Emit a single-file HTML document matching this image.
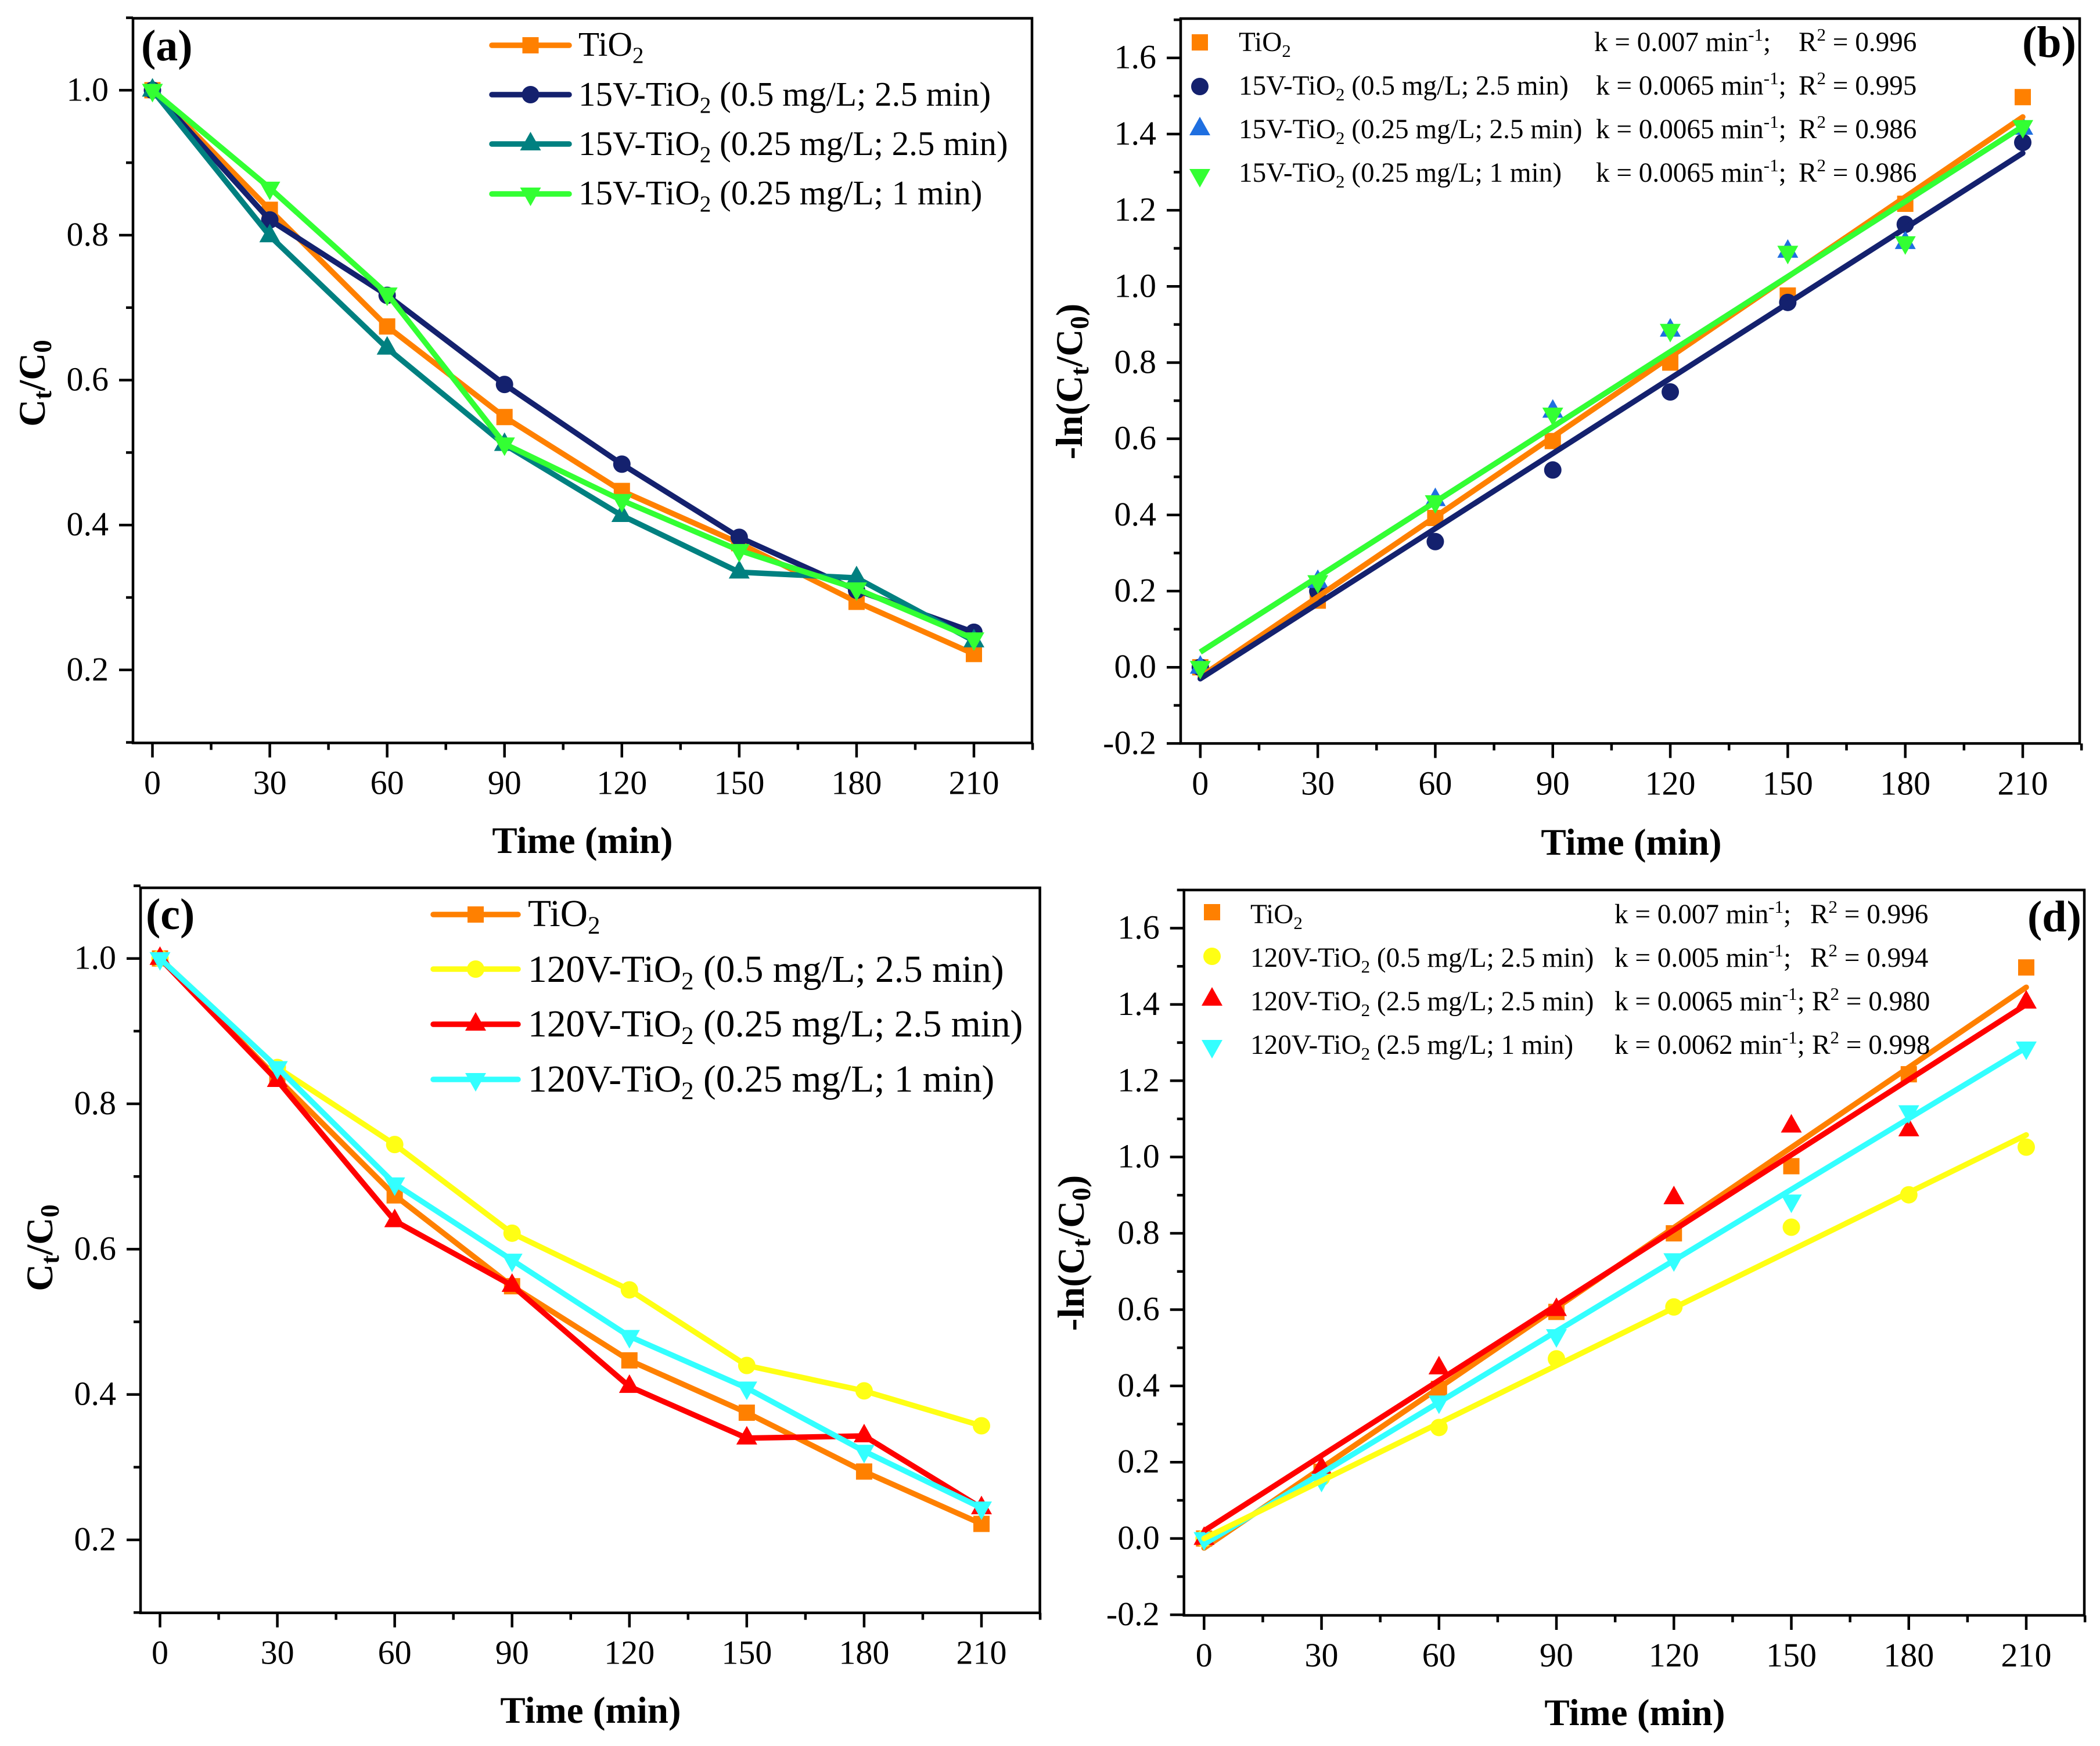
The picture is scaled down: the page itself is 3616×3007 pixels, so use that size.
<!DOCTYPE html>
<html lang="en">
<head>
<meta charset="utf-8">
<title>TiO2 photocatalytic degradation kinetics</title>
<style>
html,body{margin:0;padding:0;background:#fff;}
svg{display:block;}
text{font-family:"Liberation Serif","Times New Roman",serif;fill:#000;}
.leg-a{font-size:59px;}
.leg-c{font-size:65.4px;}
.leg-k{font-size:47.2px;}
.title{font-size:65px;font-weight:bold;}
.tag{font-size:76px;font-weight:bold;}
</style>
</head>
<body>
<svg id="figure" xmlns="http://www.w3.org/2000/svg" width="3616" height="3007" viewBox="0 0 3616 3007">
<rect x="0" y="0" width="3616" height="3007" fill="#ffffff"/>
<g id="marks"></g>

<!-- Panel tags -->
<text class="tag" x="243" y="104">(a)</text>
<text class="tag" x="3482" y="98">(b)</text>
<text class="tag" x="251" y="1600">(c)</text>
<text class="tag" x="3491" y="1604">(d)</text>

<!-- X axis titles -->
<text class="title" x="1003" y="1469" text-anchor="middle">Time (min)</text>
<text class="title" x="2809" y="1472" text-anchor="middle">Time (min)</text>
<text class="title" x="1017" y="2967" text-anchor="middle">Time (min)</text>
<text class="title" x="2815" y="2971" text-anchor="middle">Time (min)</text>

<!-- Y axis titles -->
<text class="title" transform="translate(77 660) rotate(-90)" text-anchor="middle">C<tspan dy="11" font-size="45">t</tspan><tspan dy="-11">/C</tspan><tspan dy="11" font-size="45">0</tspan></text>
<text class="title" transform="translate(1863 657) rotate(-90)" text-anchor="middle">-ln(C<tspan dy="11" font-size="45">t</tspan><tspan dy="-11">/C</tspan><tspan dy="11" font-size="45">0</tspan><tspan dy="-11">)</tspan></text>
<text class="title" transform="translate(90 2149) rotate(-90)" text-anchor="middle">C<tspan dy="11" font-size="45">t</tspan><tspan dy="-11">/C</tspan><tspan dy="11" font-size="45">0</tspan></text>
<text class="title" transform="translate(1866 2158) rotate(-90)" text-anchor="middle">-ln(C<tspan dy="11" font-size="45">t</tspan><tspan dy="-11">/C</tspan><tspan dy="11" font-size="45">0</tspan><tspan dy="-11">)</tspan></text>

<!-- Legend (a) -->
<text class="leg-a" x="996" y="96">TiO<tspan dy="12" font-size="39">2</tspan></text>
<text class="leg-a" x="996" y="182">15V-TiO<tspan dy="12" font-size="39">2</tspan><tspan dy="-12"> (0.5 mg/L; 2.5 min)</tspan></text>
<text class="leg-a" x="996" y="267">15V-TiO<tspan dy="12" font-size="39">2</tspan><tspan dy="-12"> (0.25 mg/L; 2.5 min)</tspan></text>
<text class="leg-a" x="996" y="352">15V-TiO<tspan dy="12" font-size="39">2</tspan><tspan dy="-12"> (0.25 mg/L; 1 min)</tspan></text>

<!-- Legend (c) -->
<text class="leg-c" x="909" y="1595">TiO<tspan dy="13" font-size="43">2</tspan></text>
<text class="leg-c" x="909" y="1691">120V-TiO<tspan dy="13" font-size="43">2</tspan><tspan dy="-13"> (0.5 mg/L; 2.5 min)</tspan></text>
<text class="leg-c" x="909" y="1785">120V-TiO<tspan dy="13" font-size="43">2</tspan><tspan dy="-13"> (0.25 mg/L; 2.5 min)</tspan></text>
<text class="leg-c" x="909" y="1880">120V-TiO<tspan dy="13" font-size="43">2</tspan><tspan dy="-13"> (0.25 mg/L; 1 min)</tspan></text>

<!-- Legend (b) -->
<text class="leg-k" x="2133" y="88">TiO<tspan dy="10" font-size="31">2</tspan></text>
<text class="leg-k" x="2745" y="88">k = 0.007 min<tspan dy="-18" font-size="31">-1</tspan><tspan dy="18">;</tspan></text>
<text class="leg-k" x="3097" y="88">R<tspan dy="-18" font-size="31">2</tspan><tspan dy="18"> = 0.996</tspan></text>
<text class="leg-k" x="2133" y="163">15V-TiO<tspan dy="10" font-size="31">2</tspan><tspan dy="-10"> (0.5 mg/L; 2.5 min)</tspan></text>
<text class="leg-k" x="2748" y="163">k = 0.0065 min<tspan dy="-18" font-size="31">-1</tspan><tspan dy="18">;</tspan></text>
<text class="leg-k" x="3097" y="163">R<tspan dy="-18" font-size="31">2</tspan><tspan dy="18"> = 0.995</tspan></text>
<text class="leg-k" x="2133" y="238">15V-TiO<tspan dy="10" font-size="31">2</tspan><tspan dy="-10"> (0.25 mg/L; 2.5 min)</tspan></text>
<text class="leg-k" x="2748" y="238">k = 0.0065 min<tspan dy="-18" font-size="31">-1</tspan><tspan dy="18">;</tspan></text>
<text class="leg-k" x="3097" y="238">R<tspan dy="-18" font-size="31">2</tspan><tspan dy="18"> = 0.986</tspan></text>
<text class="leg-k" x="2133" y="313">15V-TiO<tspan dy="10" font-size="31">2</tspan><tspan dy="-10"> (0.25 mg/L; 1 min)</tspan></text>
<text class="leg-k" x="2748" y="313">k = 0.0065 min<tspan dy="-18" font-size="31">-1</tspan><tspan dy="18">;</tspan></text>
<text class="leg-k" x="3097" y="313">R<tspan dy="-18" font-size="31">2</tspan><tspan dy="18"> = 0.986</tspan></text>

<!-- Legend (d) -->
<text class="leg-k" x="2153" y="1590">TiO<tspan dy="10" font-size="31">2</tspan></text>
<text class="leg-k" x="2780" y="1590">k = 0.007 min<tspan dy="-18" font-size="31">-1</tspan><tspan dy="18">;</tspan></text>
<text class="leg-k" x="3117" y="1590">R<tspan dy="-18" font-size="31">2</tspan><tspan dy="18"> = 0.996</tspan></text>
<text class="leg-k" x="2153" y="1665">120V-TiO<tspan dy="10" font-size="31">2</tspan><tspan dy="-10"> (0.5 mg/L; 2.5 min)</tspan></text>
<text class="leg-k" x="2780" y="1665">k = 0.005 min<tspan dy="-18" font-size="31">-1</tspan><tspan dy="18">;</tspan></text>
<text class="leg-k" x="3117" y="1665">R<tspan dy="-18" font-size="31">2</tspan><tspan dy="18"> = 0.994</tspan></text>
<text class="leg-k" x="2153" y="1740">120V-TiO<tspan dy="10" font-size="31">2</tspan><tspan dy="-10"> (2.5 mg/L; 2.5 min)</tspan></text>
<text class="leg-k" x="2780" y="1740">k = 0.0065 min<tspan dy="-18" font-size="31">-1</tspan><tspan dy="18">;</tspan></text>
<text class="leg-k" x="3120" y="1740">R<tspan dy="-18" font-size="31">2</tspan><tspan dy="18"> = 0.980</tspan></text>
<text class="leg-k" x="2153" y="1815">120V-TiO<tspan dy="10" font-size="31">2</tspan><tspan dy="-10"> (2.5 mg/L; 1 min)</tspan></text>
<text class="leg-k" x="2780" y="1815">k = 0.0062 min<tspan dy="-18" font-size="31">-1</tspan><tspan dy="18">;</tspan></text>
<text class="leg-k" x="3120" y="1815">R<tspan dy="-18" font-size="31">2</tspan><tspan dy="18"> = 0.998</tspan></text>
</svg>

<script>
// ---- Data ----
const timeMinutes = [0, 30, 60, 90, 120, 150, 180, 210];
const xMajorTicks = [0, 30, 60, 90, 120, 150, 180, 210];
const xMinorTicks = [15, 45, 75, 105, 135, 165, 195, 225];
const ratioMajorTicks = [0.2, 0.4, 0.6, 0.8, 1.0];
const ratioMinorTicks = [0.1, 0.3, 0.5, 0.7, 0.9, 1.1];
const lnMajorTicks = [-0.2, 0.0, 0.2, 0.4, 0.6, 0.8, 1.0, 1.2, 1.4, 1.6];
const lnMinorTicks = [-0.1, 0.1, 0.3, 0.5, 0.7, 0.9, 1.1, 1.3, 1.5, 1.7];

// Panel (a) Ct/C0, 15V
const ratioTiO2 = [1.0, 0.835, 0.674, 0.549, 0.447, 0.375, 0.294, 0.222];
const ratio15V05 = [1.0, 0.821, 0.717, 0.594, 0.484, 0.383, 0.31, 0.252];
const ratio15V025 = [1.0, 0.799, 0.644, 0.511, 0.413, 0.335, 0.327, 0.24];
const ratio15V0251 = [1.0, 0.865, 0.719, 0.512, 0.434, 0.365, 0.312, 0.243];

// Panel (b) -ln(Ct/C0), 15V
const lnTiO2 = [0, 0.175, 0.392, 0.594, 0.8, 0.976, 1.217, 1.497];
const ln15V05 = [0, 0.2, 0.33, 0.518, 0.723, 0.958, 1.163, 1.378];
const ln15V025 = [0, 0.225, 0.44, 0.672, 0.885, 1.092, 1.115, 1.415];
const ln15V0251 = [0, 0.225, 0.435, 0.665, 0.885, 1.09, 1.115, 1.42];
const fitTiO2 = [-0.025, 1.445];
const fit15V05 = [-0.03, 1.35];
const fit15V025 = [0.04, 1.42];
const fit15V0251 = [0.04, 1.42];

// Panel (c) Ct/C0, 120V
const ratio120V05 = [1.0, 0.85, 0.744, 0.622, 0.544, 0.44, 0.405, 0.357];
const ratio120V025 = [1.0, 0.832, 0.639, 0.55, 0.411, 0.34, 0.343, 0.244];
const ratio120V0251 = [1.0, 0.85, 0.69, 0.585, 0.48, 0.409, 0.322, 0.244];

// Panel (d) -ln(Ct/C0), 120V
const ln120V05 = [0, 0.16, 0.291, 0.471, 0.607, 0.816, 0.901, 1.026];
const ln120V25 = [0, 0.185, 0.447, 0.6, 0.893, 1.081, 1.071, 1.406];
const ln120V251 = [0, 0.153, 0.358, 0.532, 0.731, 0.885, 1.119, 1.286];
const fit120V05 = [0.0, 1.058];
const fit120V25 = [0.02, 1.4];
const fit120V251 = [-0.015, 1.287];

// ---- Styles ----
const ORANGE = '#ff8000', NAVY = '#14216e', TEAL = '#008080', GREEN = '#33ff33',
      BLUE = '#1f6fe0', YELLOW = '#ffff14', RED = '#ff0000', CYAN = '#33ffff';

const NS = 'http://www.w3.org/2000/svg';
const root = document.getElementById('marks');

function make(tag, attrs, parent) {
  const node = document.createElementNS(NS, tag);
  for (const key in attrs) node.setAttribute(key, attrs[key]);
  parent.appendChild(node);
  return node;
}

function xAxis(p) {
  return function (t) { return p.x0 + t * (p.x210 - p.x0) / 210; };
}
function yAxis(p) {
  return function (v) { return p.yA + (v - p.vA) * (p.yB - p.yA) / (p.vB - p.vA); };
}

function drawMarker(group, kind, cx, cy, color, name) {
  let el;
  if (kind === 'square') {
    el = make('rect', { x: cx - 14, y: cy - 14, width: 28, height: 28, fill: color }, group);
  } else if (kind === 'circle') {
    el = make('circle', { cx: cx, cy: cy, r: 15, fill: color }, group);
  } else if (kind === 'up') {
    el = make('polygon', { points: (cx - 18) + ',' + (cy + 11) + ' ' + (cx + 18) + ',' + (cy + 11) + ' ' + cx + ',' + (cy - 21), fill: color }, group);
  } else {
    el = make('polygon', { points: (cx - 18) + ',' + (cy - 11) + ' ' + (cx + 18) + ',' + (cy - 11) + ' ' + cx + ',' + (cy + 21), fill: color }, group);
  }
  
  
}

function drawAxes(p) {
  const X = xAxis(p), Y = yAxis(p);
  const g = make('g', {}, root);
  
  

  const frame = make('rect', { x: p.left, y: p.top, width: p.right - p.left, height: p.bottom - p.top, fill: 'none', stroke: '#000', 'stroke-width': 4.5 }, g);
  
  

  xMajorTicks.forEach(function (t) {
    const tick = make('line', { x1: X(t), x2: X(t), y1: p.bottom, y2: p.bottom + 25, stroke: '#000', 'stroke-width': 4.5 }, g);
    
    
    const label = make('text', { x: X(t), y: p.bottom + 88, 'text-anchor': 'middle', 'font-size': 58 }, g);
    label.textContent = String(t);
    
    
  });
  xMinorTicks.forEach(function (t) {
    const tick = make('line', { x1: X(t), x2: X(t), y1: p.bottom, y2: p.bottom + 12, stroke: '#000', 'stroke-width': 4.5 }, g);
    
    
  });
  p.yMajor.forEach(function (v) {
    const tick = make('line', { x1: p.left - 24, x2: p.left, y1: Y(v), y2: Y(v), stroke: '#000', 'stroke-width': 4.5 }, g);
    
    
    const label = make('text', { x: p.left - 42, y: Y(v) + 18, 'text-anchor': 'end', 'font-size': 58 }, g);
    label.textContent = v.toFixed(1);
    
    
  });
  p.yMinor.forEach(function (v) {
    const tick = make('line', { x1: p.left - 12, x2: p.left, y1: Y(v), y2: Y(v), stroke: '#000', 'stroke-width': 4.5 }, g);
    
    
  });
}

function drawPolyline(p, s) {
  const X = xAxis(p), Y = yAxis(p);
  const pts = s.values.map(function (v, i) { return X(timeMinutes[i]) + ',' + Y(v); }).join(' ');
  const line = make('polyline', { points: pts, fill: 'none', stroke: s.color, 'stroke-width': 9.5, 'stroke-linejoin': 'round' }, root);
  
  
}

function drawPoints(p, s) {
  const X = xAxis(p), Y = yAxis(p);
  const g = make('g', {}, root);
  
  
  s.values.forEach(function (v, i) {
    drawMarker(g, s.marker, X(timeMinutes[i]), Y(v), s.color, 'data-point-' + s.id);
  });
}

function drawFit(p, s) {
  const X = xAxis(p), Y = yAxis(p);
  const line = make('line', { x1: X(0), y1: Y(s.fit[0]), x2: X(210), y2: Y(s.fit[1]), stroke: s.color, 'stroke-width': 9.5, 'stroke-linecap': s.cap || 'round' }, root);
  
  
}

function drawLegendLine(p, s, row) {
  const g = make('g', {}, root);
  
  
  const y = p.legendY[row];
  const swatch = make('line', { x1: p.legendX1, x2: p.legendX2, y1: y, y2: y, stroke: s.color, 'stroke-width': 9.5, 'stroke-linecap': 'round' }, g);
  
  
  drawMarker(g, s.marker, (p.legendX1 + p.legendX2) / 2, y, s.color, 'legend-marker');
}

function drawLegendMarker(p, s, row) {
  drawMarker(root, s.marker, p.legendX, p.legendY[row], s.color, 'legend-marker-' + s.id);
}

// ---- Panels ----
const panelA = { id: 'a', left: 229, right: 1777, top: 31.5, bottom: 1279.5, x0: 262.5, x210: 1677, vA: 1.0, yA: 155.4, vB: 0.2, yB: 1153.8, yMajor: ratioMajorTicks, yMinor: ratioMinorTicks, legendX1: 847, legendX2: 980, legendY: [78, 163, 248, 334] };
const panelB = { id: 'b', left: 2033, right: 3581, top: 32, bottom: 1280.4, x0: 2066.8, x210: 3483, vA: 1.6, yA: 99.7, vB: -0.2, yB: 1280.4, yMajor: lnMajorTicks, yMinor: lnMinorTicks, legendX: 2066, legendY: [73, 149, 222, 302] };
const panelC = { id: 'c', left: 242, right: 1790.6, top: 1529, bottom: 2777.7, x0: 275.5, x210: 1690, vA: 1.0, yA: 1650.7, vB: 0.2, yB: 2652, yMajor: ratioMajorTicks, yMinor: ratioMinorTicks, legendX1: 746, legendX2: 892, legendY: [1575, 1669, 1764, 1859] };
const panelD = { id: 'd', left: 2038.7, right: 3589, top: 1532.8, bottom: 2782, x0: 2073.3, x210: 3489, vA: 1.6, yA: 1598.5, vB: -0.2, yB: 2781, yMajor: lnMajorTicks, yMinor: lnMinorTicks, legendX: 2087, legendY: [1571, 1647, 1721, 1802] };

[panelA, panelB, panelC, panelD].forEach(drawAxes);

// (a)
const seriesA = [
  { id: 'tio2', color: ORANGE, marker: 'square', values: ratioTiO2 },
  { id: '15v-0.5-2.5', color: NAVY, marker: 'circle', values: ratio15V05 },
  { id: '15v-0.25-2.5', color: TEAL, marker: 'up', values: ratio15V025 },
  { id: '15v-0.25-1', color: GREEN, marker: 'down', values: ratio15V0251 }
];
seriesA.forEach(function (s, i) {
  drawPolyline(panelA, s);
  drawPoints(panelA, s);
  drawLegendLine(panelA, s, i);
});

// (c)
const seriesC = [
  { id: 'tio2', color: ORANGE, marker: 'square', values: ratioTiO2 },
  { id: '120v-0.5-2.5', color: YELLOW, marker: 'circle', values: ratio120V05 },
  { id: '120v-0.25-2.5', color: RED, marker: 'up', values: ratio120V025 },
  { id: '120v-0.25-1', color: CYAN, marker: 'down', values: ratio120V0251 }
];
seriesC.forEach(function (s, i) {
  drawPolyline(panelC, s);
  drawPoints(panelC, s);
  drawLegendLine(panelC, s, i);
});

// (b)
const seriesB = [
  { id: 'tio2', color: ORANGE, marker: 'square', values: lnTiO2, fit: fitTiO2 },
  { id: '15v-0.5-2.5', color: NAVY, marker: 'circle', values: ln15V05, fit: fit15V05 },
  { id: '15v-0.25-2.5', color: BLUE, marker: 'up', values: ln15V025, fit: fit15V025, cap: 'butt' },
  { id: '15v-0.25-1', color: GREEN, marker: 'down', values: ln15V0251, fit: fit15V0251, cap: 'butt' }
];
drawPoints(panelB, seriesB[0]);
drawPoints(panelB, seriesB[1]);
drawPoints(panelB, seriesB[2]);
drawFit(panelB, seriesB[2]);
drawFit(panelB, seriesB[0]);
drawFit(panelB, seriesB[1]);
drawPoints(panelB, seriesB[3]);
drawFit(panelB, seriesB[3]);
seriesB.forEach(function (s, i) { drawLegendMarker(panelB, s, i); });

// (d)
const seriesD = [
  { id: 'tio2', color: ORANGE, marker: 'square', values: lnTiO2, fit: fitTiO2 },
  { id: '120v-0.5-2.5', color: YELLOW, marker: 'circle', values: ln120V05, fit: fit120V05 },
  { id: '120v-2.5-2.5', color: RED, marker: 'up', values: ln120V25, fit: fit120V25, cap: 'butt' },
  { id: '120v-2.5-1', color: CYAN, marker: 'down', values: ln120V251, fit: fit120V251, cap: 'butt' }
];
drawFit(panelD, seriesD[0]);
seriesD.forEach(function (s) { drawPoints(panelD, s); });
drawFit(panelD, seriesD[3]);
drawFit(panelD, seriesD[1]);
drawFit(panelD, seriesD[2]);
seriesD.forEach(function (s, i) { drawLegendMarker(panelD, s, i); });
</script>
</body>
</html>
